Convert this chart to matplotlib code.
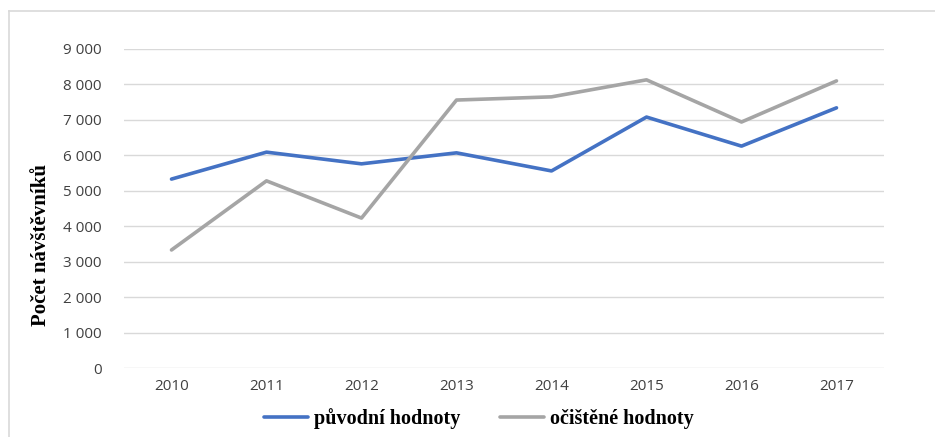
import matplotlib
matplotlib.use('Agg')
import matplotlib.pyplot as plt
from matplotlib.lines import Line2D
from matplotlib.ticker import FuncFormatter

# Data
years = ['2010', '2011', '2012', '2013', '2014', '2015', '2016', '2017']
puvodni = [5330, 6090, 5760, 6070, 5560, 7080, 6260, 7340]
ocistene = [3330, 5280, 4230, 7560, 7650, 8130, 6940, 8100]
y_ticks = [0, 1000, 2000, 3000, 4000, 5000, 6000, 7000, 8000, 9000]

BLUE = '#4472C4'
GRAY = '#A5A5A5'
GRID = '#D9D9D9'
TICK = '#404040'

fig = plt.figure(figsize=(9.35, 4.37), dpi=100)
ax = fig.add_axes([124 / 935, 1 - 368 / 437, 760 / 935, 319 / 437])

x = list(range(len(years)))
ax.plot(x, puvodni, color=BLUE, linewidth=2.6, solid_capstyle='round',
        label='původní hodnoty', zorder=3)
ax.plot(x, ocistene, color=GRAY, linewidth=2.6, solid_capstyle='round',
        label='očištěné hodnoty', zorder=3)

ax.set_xlim(-0.5, len(years) - 0.5)
ax.set_ylim(0, 9000)
ax.set_xticks(x)
ax.set_xticklabels(years)
ax.set_yticks(y_ticks)
ax.yaxis.set_major_formatter(FuncFormatter(lambda v, p: f'{int(v):,}'.replace(',', ' ')))

ax.grid(axis='y', color=GRID, linewidth=1.0)
ax.set_axisbelow(True)
for s in ax.spines.values():
    s.set_visible(False)
ax.tick_params(length=0, labelsize=11, colors=TICK, labelcolor=TICK)
ax.tick_params(axis='y', pad=16)
ax.tick_params(axis='x', pad=8)
for lbl in ax.get_xticklabels() + ax.get_yticklabels():
    lbl.set_fontfamily('Open Sans')

fig.text(41 / 935, 1 - 245 / 437, 'Počet návštěvníků', rotation=90,
         ha='center', va='center', fontsize=15, fontweight='bold',
         family='Liberation Serif', color='black')

fig.legend(loc='center', bbox_to_anchor=(0.512, 1 - 419 / 437), ncol=2,
           frameon=False, handlelength=2.2, handletextpad=0.25, columnspacing=2.0,
           prop={'family': 'Liberation Serif', 'weight': 'bold', 'size': 14.5})

# thin chart border (top and left only visible in the reference)
fig.add_artist(Line2D([9 / 935, 1.0], [1 - 10.5 / 437, 1 - 10.5 / 437],
                      transform=fig.transFigure, color=GRID, linewidth=1.2))
fig.add_artist(Line2D([9 / 935, 9 / 935], [0.0, 1 - 10.5 / 437],
                      transform=fig.transFigure, color=GRID, linewidth=1.2))

fig.savefig('out.png', dpi=100, facecolor='white')
